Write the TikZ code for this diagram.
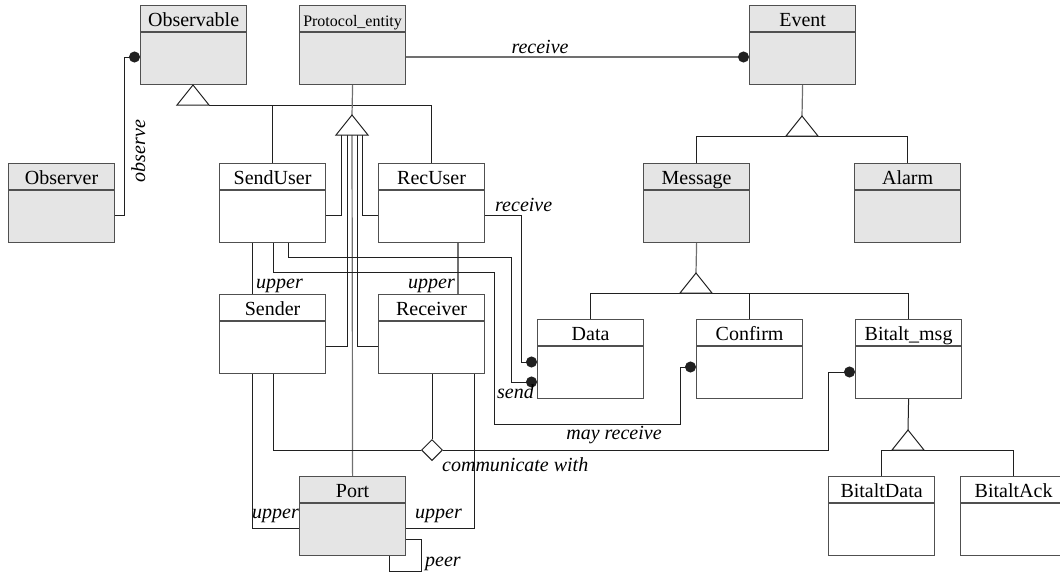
\documentclass[tikz,border=0pt]{standalone}
\usepackage{fontspec}
\setmainfont{Liberation Serif}
\newfontfamily\diaserif{Liberation Serif}
\usetikzlibrary{arrows.meta,shapes.geometric}
\definecolor{boxgray}{HTML}{E5E5E5}
\definecolor{boxline}{HTML}{505050}
\definecolor{lightline}{HTML}{707070}
\definecolor{darkline}{HTML}{202020}
\newcommand\umlclass[6]{% name, left x, top y, title, box style, title style
  \node[classbox,#5,anchor=north west] (#1) at (#2,#3) {};
  \draw[sepline] ([yshift=-27pt]#1.north west) -- ([yshift=-27pt]#1.north east);
  \node[titletext,#6] (#1-title) at ([yshift=-21.5pt]#1.north) {#4};
}
\newcommand\gentri[1]{\draw[tri] (#1) ++(-16,0) -- ++(16,-20) -- ++(16,20) -- cycle;}
\begin{document}
\begin{tikzpicture}[x=1pt,y=-1pt,
  classbox/.style={draw=boxline,line width=1.2pt,minimum width=106pt,minimum height=79pt,inner sep=0pt,fill=white},
  shaded/.style={fill=boxgray},
  plain/.style={},
  sepline/.style={draw=boxline,line width=1.2pt},
  titletext/.style={font=\diaserif\fontsize{20}{24}\selectfont,inner sep=0pt,anchor=base},
  smalltitle/.style={font=\diaserif\fontsize{16}{19}\selectfont},
  conn/.style={draw=darkline,line width=1pt},
  gconn/.style={draw=lightline,line width=1.2pt},
  assoc/.style={-{Circle[length=11pt,width=11pt,color=darkline]}},
  tri/.style={draw=darkline,line width=1pt,fill=white,line join=miter},
  lbl/.style={font=\diaserif\itshape\fontsize{20}{24}\selectfont,inner sep=0pt,anchor=base},
  aggr/.style={diamond,draw=darkline,line width=1pt,fill=white,minimum width=21pt,minimum height=21pt,inner sep=0pt}
]
\useasboundingbox (0,0) rectangle (1060,573);
\clip (0,0) rectangle (1060,573);

% classes
\umlclass{observable}{140}{5}{Observable}{shaded}{}
\umlclass{protocol}{299}{5}{Protocol\_entity}{shaded}{smalltitle}
\umlclass{event}{749}{5}{Event}{shaded}{}
\umlclass{observer}{8}{163}{Observer}{shaded}{}
\umlclass{senduser}{219}{163}{SendUser}{plain}{}
\umlclass{recuser}{378}{163}{RecUser}{plain}{}
\umlclass{message}{643}{163}{Message}{shaded}{}
\umlclass{alarm}{854}{163}{Alarm}{shaded}{}
\umlclass{sender}{219}{294}{Sender}{plain}{}
\umlclass{receiver}{378}{294}{Receiver}{plain}{}
\umlclass{data}{537}{319}{Data}{plain}{}
\umlclass{confirm}{696}{319}{Confirm}{plain}{}
\umlclass{bitaltmsg}{855}{319}{Bitalt\_msg}{plain}{}
\umlclass{bitaltdata}{828}{476}{BitaltData}{plain}{}
\umlclass{bitaltack}{960}{476}{BitaltAck}{plain}{}
\umlclass{port}{299}{476}{Port}{shaded}{}

% observe
\draw[conn,assoc] (observer.east |- 0,215) -- (124,215) |- (observable.west |- 0,57);
% receive Protocol_entity - Event
\draw[gconn,assoc] (protocol.east |- 0,57) -- (event.west |- 0,57);

% Observable generalization
\draw[conn] (209,105) -| (recuser.north);
\draw[conn] (senduser.north) -- (senduser.north |- 0,105);
\gentri{193,105}

% Protocol_entity generalization
\draw[gconn] (protocol.south) -- (352,115);
\draw[conn] (341,135) |- (senduser.east |- 0,215);
\draw[conn] (362,135) |- (recuser.west |- 0,215);
\draw[conn] (347,135) |- (sender.east |- 0,346);
\draw[conn] (357,135) |- (receiver.west |- 0,346);
\draw[gconn] (352,135) -- (port.north);
\gentri{352,135}

% Event generalization
\draw[gconn] (event.south) -- (802,116);
\draw[conn] (message.north) |- (alarm.north |- 0,136) -- (alarm.north);
\gentri{802,136}

% Message generalization
\draw[gconn] (message.south) -- (696,273);
\draw[conn] (data.north) |- (bitaltmsg.north |- 0,293) -- (bitaltmsg.north);
\draw[conn] (confirm.north) -- (confirm.north |- 0,293);
\gentri{696,293}

% Bitalt_msg generalization
\draw[conn] (bitaltmsg.south) -- (908,430);
\draw[conn] (bitaltdata.north) |- (bitaltack.north |- 0,450) -- (bitaltack.north);
\gentri{908,450}

% upper links
\draw[conn] (senduser.south -| 252,0) -- (sender.north -| 252,0);
\draw[gconn] (recuser.south -| 458,0) -- (receiver.north -| 458,0);

% SendUser / RecUser to Data / Confirm
\draw[conn,assoc] (senduser.south -| 273,0) |- (494,272) -- (494,424) -| (680,367) -- (confirm.west |- 0,367);
\draw[conn,assoc] (senduser.south -| 288,0) |- (511,257) |- (data.west |- 0,382);
\draw[conn,assoc] (recuser.east |- 0,215) -| (521,362) -- (data.west |- 0,362);

% communicate with
\node[aggr] (agg) at (432,450) {};
\draw[conn] (sender.south -| 273,0) |- (agg.west);
\draw[conn] (agg.north |- receiver.south) -- (agg.north);
\draw[conn,assoc] (agg.east) -| (828,372) -- (bitaltmsg.west |- 0,372);

% Port links
\draw[conn] (sender.south -| 252,0) |- (port.west |- 0,528);
\draw[conn] (receiver.south -| 474,0) |- (port.east |- 0,528);
\draw[conn] (port.east |- 0,539) -| (421,571) -| (port.south -| 389,0);

% labels
\node[lbl] (lbl-receive1) at (540,53) {receive};
\node[lbl,rotate=90] (lbl-observe) at (145,151) {observe};
\node[lbl,anchor=base west] (lbl-upper1) at (256,288) {upper};
\node[lbl,anchor=base east] (lbl-upper2) at (455,288) {upper};
\node[lbl,anchor=base west] (lbl-receive2) at (495,211) {receive};
\node[lbl,anchor=base east] (lbl-send) at (534,398) {send};
\node[lbl] (lbl-mayreceive) at (614,439) {may receive};
\node[lbl,anchor=base west] (lbl-comm) at (442,471) {communicate with};
\node[lbl,anchor=base east] (lbl-upper3) at (299,518) {upper};
\node[lbl,anchor=base west] (lbl-upper4) at (415,518) {upper};
\node[lbl,anchor=base west] (lbl-peer) at (425,566) {peer};
\end{tikzpicture}
\end{document}
